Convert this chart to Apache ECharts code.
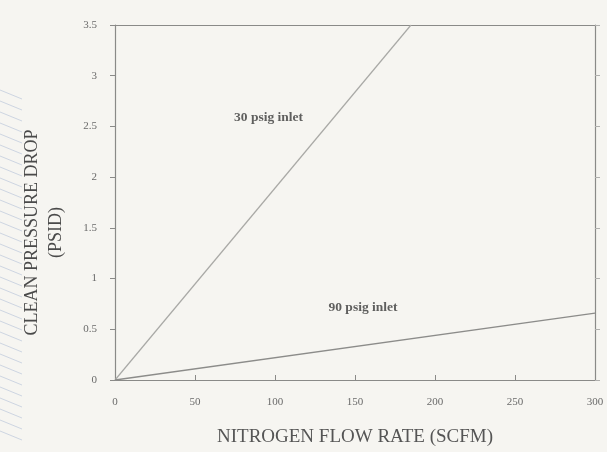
<!DOCTYPE html>
<html><head><meta charset="utf-8">
<script src="https://cdn.jsdelivr.net/npm/echarts@6/dist/echarts.min.js"></script>
<style>html,body{margin:0;padding:0;background:#f6f5f1;overflow:hidden;}#c{width:607px;height:452px;}</style>
</head><body><div id="c"></div>
<script>
// Data
var xTicks = [0, 50, 100, 150, 200, 250, 300];
var yTicks = [0, 0.5, 1, 1.5, 2, 2.5, 3, 3.5];
var flow30 = [0, 185];          // SCFM
var drop30 = [0, 3.5];          // PSID
var flow90 = [0, 300];
var drop90 = [0, 0.66];
var labelNames = ['30 psig inlet', '90 psig inlet'];
var labelX = [96, 155];
var labelY = [2.59, 0.71];

function pairs(xs, ys){ return xs.map(function(x,i){ return [x, ys[i]]; }); }

var chart = echarts.init(document.getElementById('c'));
var axisColor = '#8a8a88';
var serif = '"Liberation Serif","DejaVu Serif",serif';

var stripes = [];
for (var k = 0; k < 32; k++) {
  var y0 = 90 + k * 11;
  stripes.push({type: 'line', silent: true,
    shape: {x1: 0, y1: y0, x2: 22, y2: y0 + 9},
    style: {stroke: '#c3cddd', lineWidth: 0.8}});
}

chart.setOption({
  backgroundColor: '#f6f5f1',
  animation: false,
  graphic: stripes,
  grid: {left: 115, right: 12, top: 25, bottom: 68, show: false},
  xAxis: [{
    type: 'value', min: xTicks[0], max: xTicks[xTicks.length-1], interval: 50,
    name: 'NITROGEN FLOW RATE (SCFM)', nameLocation: 'middle', nameGap: 48,
    nameTextStyle: {fontFamily: serif, fontSize: 19, color: '#555'},
    axisLine: {show: true, onZero: false, lineStyle: {color: axisColor, width: 1.2}},
    axisTick: {show: true, inside: true, length: 5, lineStyle: {color: axisColor}},
    axisLabel: {fontFamily: serif, fontSize: 11, color: '#6a6a6a', margin: 17},
    splitLine: {show: false}
  }, {
    type: 'value', position: 'top', min: 0, max: 300,
    axisLine: {show: true, onZero: false, lineStyle: {color: axisColor, width: 1.2}},
    axisTick: {show: false}, axisLabel: {show: false}, splitLine: {show: false}
  }],
  yAxis: [{
    type: 'value', min: yTicks[0], max: yTicks[yTicks.length-1], interval: 0.5,
    name: 'CLEAN PRESSURE DROP\n(PSID)', nameLocation: 'middle', nameGap: 47, nameRotate: 90,
    nameTextStyle: {fontFamily: serif, fontSize: 18, color: '#4a4a4a', lineHeight: 24, padding: [0, 60, 0, 0]},
    axisLine: {show: true, onZero: false, lineStyle: {color: axisColor, width: 1.2}},
    axisTick: {show: true, length: 5, lineStyle: {color: axisColor}},
    axisLabel: {fontFamily: serif, fontSize: 11, color: '#6a6a6a', margin: 18},
    splitLine: {show: false}
  }, {
    type: 'value', position: 'right', min: 0, max: 3.5, interval: 0.5,
    axisLine: {show: true, onZero: false, lineStyle: {color: axisColor, width: 1.2}},
    axisTick: {show: true, length: 5, lineStyle: {color: '#b0b0ae'}},
    axisLabel: {show: false}, splitLine: {show: false}
  }],
  series: [{
    type: 'line', data: pairs(flow30, drop30), symbol: 'none',
    lineStyle: {color: '#a9a9a6', width: 1.2}
  }, {
    type: 'line', data: pairs(flow90, drop90), symbol: 'none',
    lineStyle: {color: '#8c8c8a', width: 1.3}
  }, {
    type: 'scatter', symbolSize: 0,
    data: labelNames.map(function(n,i){ return {name: n, value: [labelX[i], labelY[i]]}; }),
    label: {show: true, position: 'inside', formatter: '{b}', fontFamily: serif, fontSize: 13.5, fontWeight: 'bold', color: '#3a3a3a'}
  }]
});
</script></body></html>
